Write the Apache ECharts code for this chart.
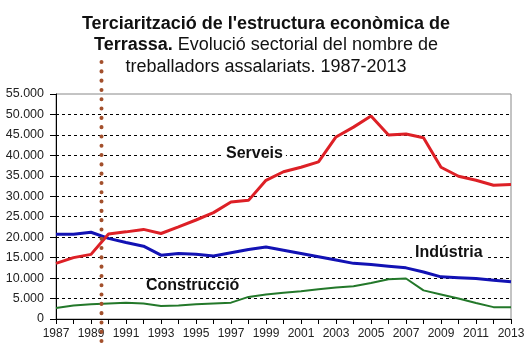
<!DOCTYPE html>
<html>
<head>
<meta charset="utf-8">
<script src="https://cdn.jsdelivr.net/npm/echarts@6/dist/echarts.min.js"></script>
<style>
html, body { margin: 0; padding: 0; background: #fff; }
#chart { width: 532px; height: 353px; }
</style>
</head>
<body>
<div id="chart"></div>
<script>
// Data
var years = ['1987', '1988', '1989', '1990', '1991', '1992', '1993', '1994', '1995', '1996',
    '1997', '1998', '1999', '2000', '2001', '2002', '2003', '2004', '2005', '2006',
    '2007', '2008', '2009', '2010', '2011', '2012', '2013'];
var serveis = [13600, 15000, 15800, 20800, 21300, 21900, 20900, 22500, 24200, 26000,
    28600, 29000, 33900, 36000, 37100, 38400, 44500, 46900, 49600, 45000,
    45200, 44300, 37100, 34900, 33900, 32700, 32900];
var industria = [20700, 20700, 21200, 19700, 18700, 17800, 15600, 16000, 15800, 15400,
    16200, 17000, 17600, 16800, 16000, 15200, 14400, 13600, 13300, 12900,
    12500, 11500, 10300, 10100, 9900, 9500, 9100];
var construccio = [2700, 3300, 3600, 3800, 4000, 3800, 3200, 3300, 3600, 3800,
    4000, 5400, 6000, 6400, 6800, 7300, 7700, 8000, 8800, 9700,
    9900, 7000, 6000, 5000, 3900, 2900, 2900];
// position of the dotted marker, as a (fractional) index into years
var markerIndex = 2.6;

var font = 'Liberation Sans, Arial, sans-serif';

function thousands(v) {
    return String(v).replace(/\B(?=(\d{3})+(?!\d))/g, '.');
}

var myChart = echarts.init(document.getElementById('chart'));

var option = {
    animation: false,
    title: {
        left: 'center',
        top: 8,
        padding: [5, 0, 5, 6],
        text: '{b|Terciarització de l\'estructura econòmica de}\n{b|Terrassa.}{n| Evolució sectorial del nombre de}\n{n|treballadors assalariats. 1987-2013}',
        textStyle: {
            fontWeight: 'normal',
            rich: {
                b: { fontFamily: font, fontSize: 18, fontWeight: 'bold', color: '#111', lineHeight: 21.5 },
                n: { fontFamily: font, fontSize: 18, fontWeight: 'normal', color: '#111', lineHeight: 21.5 }
            }
        }
    },
    grid: {
        left: 56, right: 21, top: 94, bottom: 34,
        show: true, borderColor: '#888', borderWidth: 1
    },
    xAxis: {
        type: 'category',
        data: years,
        boundaryGap: false,
        axisLine: { lineStyle: { color: '#000', width: 1 } },
        axisTick: { show: true, interval: 0, length: 5, lineStyle: { color: '#000' } },
        axisLabel: { interval: 1, color: '#222', fontFamily: font, fontSize: 12, margin: 9 }
    },
    yAxis: {
        type: 'value',
        min: 0, max: 55000, interval: 5000,
        axisLine: { show: true, lineStyle: { color: '#000', width: 1 } },
        axisTick: { show: true, length: 6, lineStyle: { color: '#000' } },
        axisLabel: { color: '#222', fontFamily: font, fontSize: 12.5, margin: 12, formatter: thousands },
        splitLine: { show: true, showMaxLine: false, lineStyle: { color: '#000', type: [3, 3], width: 1 } }
    },
    series: [
        {
            name: 'Construcció', type: 'line', data: construccio, symbol: 'none',
            lineStyle: { color: '#23782a', width: 2 }
        },
        {
            name: 'Indústria', type: 'line', data: industria, symbol: 'none',
            lineStyle: { color: '#1212b4', width: 3 }
        },
        {
            name: 'Serveis', type: 'line', data: serveis, symbol: 'none',
            lineStyle: { color: '#dd2026', width: 3 }
        }
    ],
    graphic: [
        {
            id: 'lblServeis', type: 'text', x: 223, y: 154, z: 50,
            style: { text: 'Serveis', font: 'bold 16px ' + font, fill: '#111',
                verticalAlign: 'middle', backgroundColor: '#fff', padding: [0, 3] }
        },
        {
            id: 'lblIndustria', type: 'text', x: 412, y: 253, z: 50,
            style: { text: 'Indústria', font: 'bold 16px ' + font, fill: '#111',
                verticalAlign: 'middle', backgroundColor: '#fff', padding: [0, 3] }
        },
        {
            id: 'lblConstruccio', type: 'text', x: 146, y: 286, z: 50,
            style: { text: 'Construcció', font: 'bold 16px ' + font, fill: '#111',
                verticalAlign: 'middle' }
        }
    ]
};

myChart.setOption(option);

// dotted vertical marker, placed through the x axis scale
var i0 = Math.floor(markerIndex);
var xa = myChart.convertToPixel({ xAxisIndex: 0 }, i0);
var xb = myChart.convertToPixel({ xAxisIndex: 0 }, i0 + 1);
var mx = xa + (markerIndex - i0) * (xb - xa);

myChart.setOption({
    graphic: [
        {
            id: 'marker', type: 'line', z: 100,
            shape: { x1: mx, y1: 62, x2: mx, y2: 344 },
            style: { stroke: '#a3502c', lineWidth: 4, lineDash: [0.1, 9.2], lineCap: 'round' }
        }
    ]
});
</script>
</body>
</html>
